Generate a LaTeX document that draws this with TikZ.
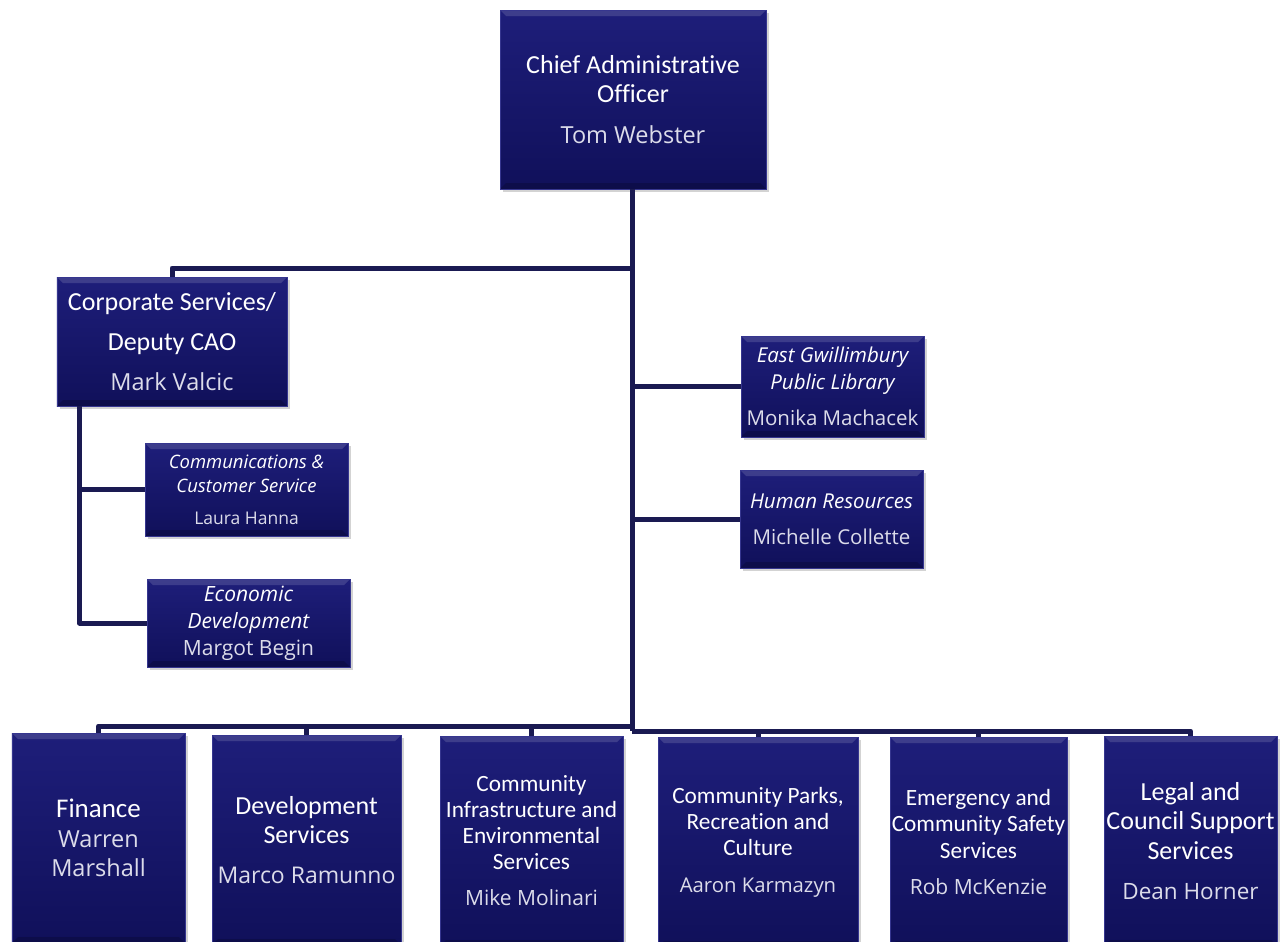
\documentclass[tikz,border=0pt]{standalone}
\usepackage{fontspec}
\setmainfont{Carlito}[Ligatures=NoCommon]
\newfontfamily\namefont{Open Sans}
\usetikzlibrary{positioning,calc,shadows}
\definecolor{boxtop}{HTML}{1E1E7A}
\definecolor{boxbot}{HTML}{10105A}
\definecolor{boxedge}{HTML}{36368F}
\definecolor{wire}{HTML}{1A1A52}
\definecolor{namegray}{HTML}{DCDCEA}
\newcommand{\hdfont}[2]{\fontsize{#1bp}{#2bp}\selectfont\color{white}}
\newcommand{\itfont}[2]{\namefont\itshape\fontsize{#1bp}{#2bp}\selectfont\color{white}}
\newcommand{\nm}[2]{{\namefont\upshape\fontsize{#1bp}{#1bp}\selectfont\color{namegray}#2}}
\tikzset{
  orgbox/.style={draw=boxedge,line width=0.8bp,top color=boxtop,bottom color=boxbot,
    align=center,inner xsep=0pt,inner ysep=2bp,
    drop shadow={shadow xshift=3bp,shadow yshift=-3bp,opacity=.35},
    path picture={
      \fill[white,opacity=.14] (path picture bounding box.north west) -- (path picture bounding box.north east)
        -- ([xshift=-6bp,yshift=-6bp]path picture bounding box.north east)
        -- ([xshift=6bp,yshift=-6bp]path picture bounding box.north west) -- cycle;
      \fill[black,opacity=.18] (path picture bounding box.south west) -- (path picture bounding box.south east)
        -- ([xshift=-6bp,yshift=6bp]path picture bounding box.south east)
        -- ([xshift=6bp,yshift=6bp]path picture bounding box.south west) -- cycle;
    }},
  bottombox/.style={orgbox,minimum height=210bp},
  link/.style={draw=wire,line width=5bp,line join=round},
}
\begin{document}
\begin{tikzpicture}[x=1bp,y=-1bp]
\useasboundingbox (0,0) rectangle (1286,942);
\node[orgbox,minimum width=266bp,minimum height=179bp,font=\hdfont{26}{29.5}] (cao) at (633,99.5)
{Chief Administrative\\Officer\\[11bp]\nm{23.5}{Tom Webster}};
\node[orgbox,minimum width=230bp,minimum height=129bp,font=\hdfont{26}{40}] (corp) at (172,341.5)
{Corporate Services/\\Deputy CAO\\\nm{23.5}{Mark Valcic}};
\node[orgbox,minimum width=203bp,minimum height=93bp,font=\itfont{18.5}{24}] (comm) at (246.5,489.5)
{Communications \&\\Customer Service\\[8bp]\nm{17.5}{Laura Hanna}};
\node[orgbox,minimum width=203bp,minimum height=88bp,font=\itfont{21}{27}] (econ) at (248.5,623)
{Economic\\Development\\\nm{21}{Margot Begin}};
\node[orgbox,minimum width=183bp,minimum height=101bp,font=\itfont{20.5}{27}] (lib) at (832.5,386.5)
{East Gwillimbury\\Public Library\\[9bp]\nm{20.5}{Monika Machacek}};
\node[orgbox,minimum width=183bp,minimum height=98bp,font=\itfont{20.5}{27}] (hr) at (831.5,519)
{Human Resources\\[9bp]\nm{20.5}{Michelle Collette}};
\node[bottombox,minimum width=173bp,font=\hdfont{27}{29.5}] (fin) at (98.5,838)
{Finance\\\nm{23.5}{Warren}\\\nm{23.5}{Marshall}};
\node[bottombox,minimum width=189bp,font=\hdfont{26}{29}] (dev) at (306.5,840)
{Development\\Services\\[11bp]\nm{23}{Marco Ramunno}};
\node[bottombox,minimum width=183bp,font=\hdfont{23.3}{26}] (cies) at (531.5,841)
{Community\\Infrastructure and\\Environmental\\Services\\[10bp]\nm{21}{Mike Molinari}};
\node[bottombox,minimum width=200bp,font=\hdfont{23.3}{26}] (parks) at (758,842)
{Community Parks,\\Recreation and\\Culture\\[11bp]\nm{20.3}{Aaron Karmazyn}};
\node[bottombox,minimum width=177bp,font=\hdfont{23.3}{26.5}] (emerg) at (978.5,842)
{Emergency and\\Community Safety\\Services\\[10bp]\nm{21}{Rob McKenzie}};
\node[bottombox,minimum width=173bp,font=\hdfont{26}{29.5}] (legal) at (1190.5,841)
{Legal and\\Council Support\\Services\\[11bp]\nm{22.5}{Dean Horner}};
\coordinate (busl) at (632,726);
\coordinate (busr) at (632,731);
\draw[link] ([xshift=-1bp]cao.south) -- (busr);
\draw[link] ([xshift=-1bp]cao.south |- 0,268) -| (corp.north);
\draw[link] ([xshift=-1bp]cao.south |- lib.west) -- (lib.west);
\draw[link] ([xshift=-1bp]cao.south |- hr.west) -- (hr.west);
\draw[link] ([xshift=23bp]corp.south west) |- (econ.west);
\draw[link] ([xshift=23bp]corp.south west |- comm.west) -- (comm.west);
\draw[link] (fin.north) |- (busl);
\draw[link] (dev.north) -- (dev.north |- busl);
\draw[link] (cies.north) -- (cies.north |- busl);
\draw[link] (legal.north) |- (busr);
\draw[link] (parks.north) -- (parks.north |- busr);
\draw[link] (emerg.north) -- (emerg.north |- busr);
\end{tikzpicture}
\end{document}
